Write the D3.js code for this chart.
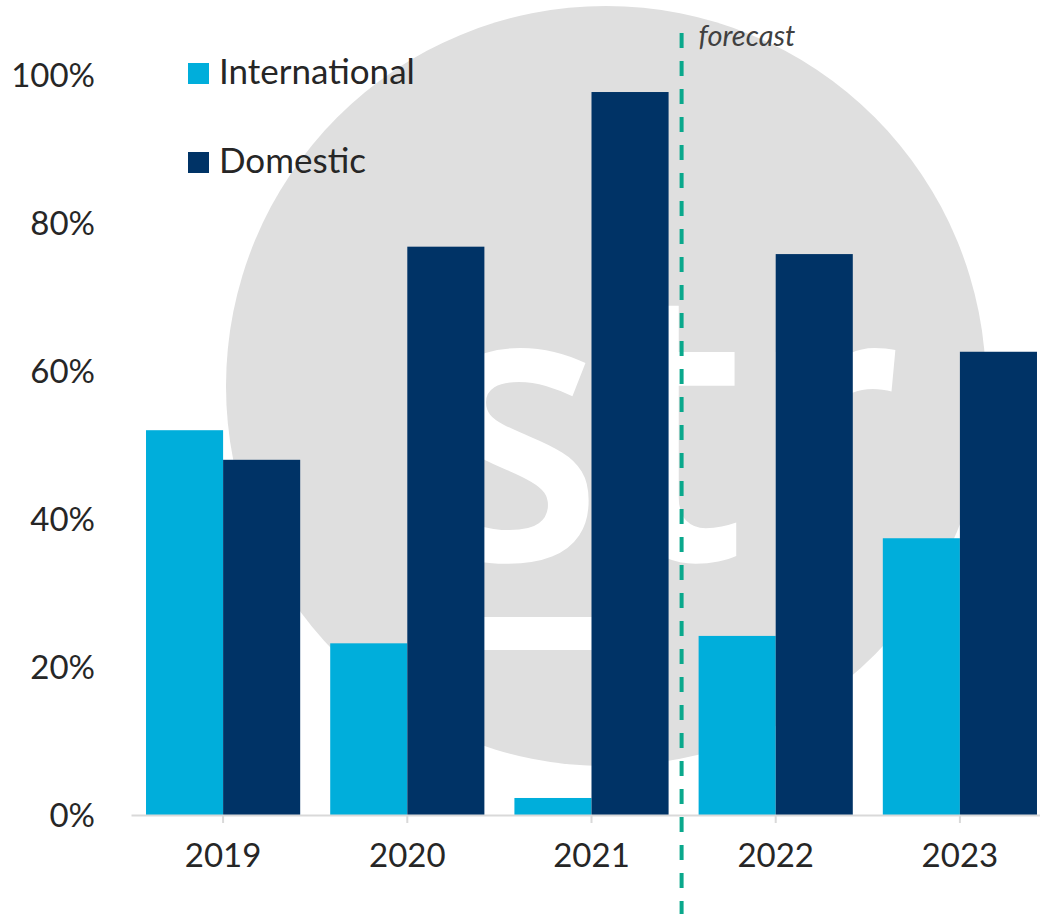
<!DOCTYPE html>
<html>
<head>
<meta charset="utf-8">
<script src="https://cdnjs.cloudflare.com/ajax/libs/d3/7.8.5/d3.min.js"></script>
<style>
  body { margin: 0; background: #fff; }
  svg { display: block; }
  .tick text { font-family: Lato, "Open Sans", sans-serif; fill: #262626; }
</style>
</head>
<body>
<div id="chart"></div>
<script>
// Chart size
var width = 1040,
    height = 914;

// Data
var years = ['2019', '2020', '2021', '2022', '2023'];
var series = ['International', 'Domestic'];
var international = [52.0, 23.2, 2.3, 24.2, 37.4];
var domestic = [48.0, 76.8, 97.7, 75.8, 62.6];
var yTicks = [0, 20, 40, 60, 80, 100];
var colors = ['#00aedb', '#003366'];

var rows = years.map(function(y, i) {
  return {year: y, values: [international[i], domestic[i]]};
});

var svg = d3.select('#chart').append('svg')
    .attr('width', width)
    .attr('height', height);

// Scales
var x0 = d3.scaleBand()
    .domain(years)
    .range([131, 1052])
    .paddingInner(0.163)
    .paddingOuter(0.0815);

var x1 = d3.scaleBand()
    .domain(series)
    .range([0, x0.bandwidth()]);

var y = d3.scaleLinear()
    .domain([0, 100])
    .range([815, 75]);

// Watermark (grey disc with str logo)
var wm = svg.append('g');
wm.append('circle')
    .attr('cx', 606)
    .attr('cy', 386)
    .attr('r', 380)
    .attr('fill', '#dfdfdf');
wm.append('text')
    .attr('x', 428)
    .attr('y', 560)
    .attr('font-family', '"Open Sans", sans-serif')
    .attr('font-weight', 600)
    .attr('font-size', 385)
    .attr('textLength', 474)
    .attr('lengthAdjust', 'spacingAndGlyphs')
    .attr('fill', '#ffffff')
    .text('str');
wm.append('rect')
    .attr('x', 425)
    .attr('y', 617)
    .attr('width', 225)
    .attr('height', 33)
    .attr('fill', '#ffffff');

// Bars
var groups = svg.selectAll('g.year')
  .data(rows)
  .enter().append('g')
    .attr('class', 'year')
    .attr('transform', function(d) { return 'translate(' + x0(d.year) + ',0)'; });

groups.selectAll('rect')
  .data(function(d) { return d.values.map(function(v, i) { return {key: series[i], value: v, i: i}; }); })
  .enter().append('rect')
    .attr('x', function(d) { return x1(d.key); })
    .attr('y', function(d) { return y(d.value); })
    .attr('width', x1.bandwidth())
    .attr('height', function(d) { return y(0) - y(d.value); })
    .attr('fill', function(d) { return colors[d.i]; });

// X axis
var xAxis = svg.append('g')
    .attr('transform', 'translate(0,' + y(0) + ')')
    .call(d3.axisBottom(x0).tickSize(8).tickSizeOuter(0).tickPadding(21));
xAxis.select('.domain').attr('stroke', '#d9d9d9').attr('stroke-width', 2);
xAxis.selectAll('.tick line').attr('stroke', '#d9d9d9').attr('stroke-width', 2);
xAxis.selectAll('.tick text').attr('font-size', 33).attr('dy', '0.71em');

// Y axis
var yAxis = svg.append('g')
    .attr('transform', 'translate(131,0)')
    .call(d3.axisLeft(y).tickValues(yTicks).tickSize(0).tickPadding(36)
      .tickFormat(function(d) { return d + '%'; }));
yAxis.select('.domain').remove();
yAxis.selectAll('.tick text').attr('font-size', 33).attr('dy', '0.36em');

// Forecast divider
var divX = (x0('2021') + x0.bandwidth() + x0('2022')) / 2 - 2;
svg.append('line')
    .attr('x1', divX).attr('x2', divX)
    .attr('y1', 33).attr('y2', height)
    .attr('stroke', '#0aa88c')
    .attr('stroke-width', 4)
    .attr('stroke-dasharray', '15,13');
svg.append('text')
    .attr('x', divX + 17)
    .attr('y', 46)
    .attr('font-family', 'Lato, sans-serif')
    .attr('font-style', 'italic')
    .attr('font-size', 29)
    .attr('fill', '#404040')
    .text('forecast');

// Legend
var legend = svg.selectAll('g.legend')
  .data(series)
  .enter().append('g')
    .attr('class', 'legend')
    .attr('transform', function(d, i) { return 'translate(188,' + (63 + i * 89) + ')'; });
legend.append('rect')
    .attr('width', 21)
    .attr('height', 21)
    .attr('fill', function(d, i) { return colors[i]; });
legend.append('text')
    .attr('x', 31)
    .attr('y', 21)
    .attr('font-family', 'Lato, sans-serif')
    .attr('font-size', 35)
    .attr('fill', '#262626')
    .text(function(d) { return d; });
</script>
</body>
</html>
